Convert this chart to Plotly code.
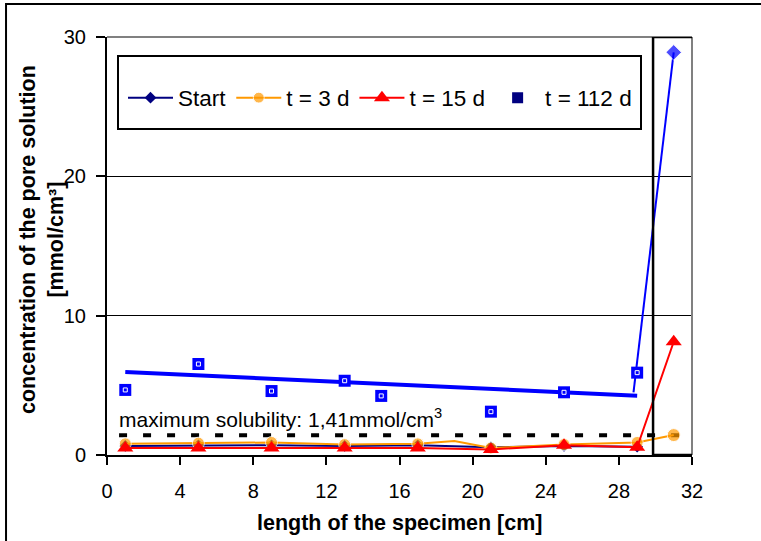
import plotly.graph_objects as go

# ---- data ----
x_start = [1, 5, 9, 13, 17, 21, 25, 29]
start = [0.65, 0.7, 0.7, 0.65, 0.7, 0.55, 0.65, 0.6]

x_3d = [1, 5, 9, 13, 17, 19, 21, 25, 29, 31]
t3d = [0.8, 0.85, 0.9, 0.75, 0.8, 1.0, 0.5, 0.75, 0.9, 1.43]
t3d_marker = [12, 12, 12, 12, 12, 0, 12, 12, 12, 13]

x_15d = [1, 5, 9, 13, 17, 21, 25, 29, 31]
t15d = [0.5, 0.5, 0.5, 0.5, 0.5, 0.4, 0.7, 0.55, 8.13]

x_112d = [1, 5, 9, 13, 15, 21, 25, 29]
t112d = [4.67, 6.53, 4.59, 5.33, 4.24, 3.11, 4.5, 5.91]

trend_x = [1, 29]
trend_y = [5.96, 4.26]

spike_x = [28.8, 31]
spike_y = [4.5, 28.9]

solubility = 1.41
sol_x = [0.66, 32.05]

x_ticks = [0, 4, 8, 12, 16, 20, 24, 28, 32]
y_ticks = [0, 10, 20, 30]

FONT = "Liberation Sans, Arial, sans-serif"
FS_TICK = 20
FS_TITLE = 21.5
FS_NOTE = 21
FS_LEG = 22.5
NAVY = "#000080"
BLUE = "#0000FF"
ORANGE = "#FF9900"
RED = "#FF0000"

fig = go.Figure()

# max solubility dashed line
fig.add_trace(go.Scatter(x=sol_x, y=[solubility] * len(sol_x), mode="lines",
                         line=dict(color="black", width=4, dash="8px,16px"),
                         showlegend=False, hoverinfo="skip"))
# trendline of t = 112 d
fig.add_trace(go.Scatter(x=trend_x, y=trend_y, mode="lines",
                         line=dict(color=BLUE, width=4), showlegend=False))
# spike to right end
fig.add_trace(go.Scatter(x=spike_x, y=spike_y, mode="lines+markers",
                         line=dict(color=BLUE, width=2),
                         marker=dict(symbol="diamond", size=[0, 12], color=BLUE),
                         showlegend=False))
# t = 112 d squares
fig.add_trace(go.Scatter(x=x_112d, y=t112d, mode="markers",
                         marker=dict(symbol="square", size=12, color=BLUE,
                                     line=dict(color=BLUE, width=0)),
                         showlegend=False))
fig.add_trace(go.Scatter(x=x_112d, y=t112d, mode="markers",
                         marker=dict(symbol="square-open", size=4, color="white",
                                     line=dict(color="white", width=1)),
                         showlegend=False, hoverinfo="skip"))

# Start
fig.add_trace(go.Scatter(x=x_start, y=start, mode="lines+markers", name="Start",
                         line=dict(color=NAVY, width=2),
                         marker=dict(symbol="diamond", size=9, color=NAVY)))
# t = 3 d
fig.add_trace(go.Scatter(x=x_3d, y=t3d, mode="lines+markers", name="t = 3 d",
                         line=dict(color=ORANGE, width=2),
                         marker=dict(symbol="circle", size=t3d_marker, color=ORANGE)))
# t = 15 d
fig.add_trace(go.Scatter(x=x_15d, y=t15d, mode="lines+markers", name="t = 15 d",
                         line=dict(color=RED, width=2),
                         marker=dict(symbol="triangle-up", size=14, color=RED)))
# legend proxy for t = 112 d
fig.add_trace(go.Scatter(x=[None], y=[None], mode="markers", name="t = 112 d",
                         marker=dict(symbol="square", size=11, color=NAVY,
                                     line=dict(color=NAVY, width=0))))

shapes = [
    # outer frame
    dict(type="rect", xref="paper", yref="paper", x0=-0.1726, x1=1.2, y0=-0.3, y1=1.0789,
         line=dict(color="black", width=2), layer="below"),
    # top & right plot border (gray)
    dict(type="line", xref="paper", yref="paper", x0=0, x1=1, y0=1, y1=1,
         line=dict(color="#808080", width=2)),
    dict(type="line", xref="paper", yref="paper", x0=1, x1=1, y0=0, y1=1,
         line=dict(color="#808080", width=2)),
    # legend box
    dict(type="rect", xref="paper", yref="paper",
         x0=(118 - 107) / 585, x1=(641 - 107) / 585,
         y0=1 - (129 - 37) / 418, y1=1 - (56 - 37) / 418,
         line=dict(color="black", width=2), fillcolor="white"),
    # highlight box around last position
    dict(type="rect", xref="x", yref="y", x0=29.87, x1=32.08, y0=0, y1=30,
         line=dict(color="black", width=2.5)),
]

annotations = [
    dict(x=0.55, y=1.55, xref="x", yref="y", xanchor="left", yanchor="bottom",
         text="maximum solubility: 1,41mmol/cm<sup>3</sup>", showarrow=False,
         font=dict(family=FONT, size=FS_NOTE, color="black")),
    dict(x=(42 - 107) / 585, y=1 - (240 - 37) / 418, xref="paper", yref="paper",
         text="<b>concentration of the pore solution<br>[mmol/cm³]</b>", textangle=-90,
         showarrow=False, xanchor="center", yanchor="middle",
         font=dict(family=FONT, size=FS_TITLE, color="black")),
    dict(x=0.5, y=1 - (523 - 37) / 418, xref="paper", yref="paper",
         text="<b>length of the specimen [cm]</b>", showarrow=False,
         xanchor="center", yanchor="middle",
         font=dict(family=FONT, size=FS_TITLE, color="black")),
]

fig.update_layout(
    width=761, height=541,
    margin=dict(l=107, r=69, t=37, b=86),
    paper_bgcolor="white", plot_bgcolor="white",
    font=dict(family=FONT, size=FS_TICK, color="black"),
    shapes=shapes, annotations=annotations,
    legend=dict(orientation="h", x=(123 - 107) / 585, y=1 - (98 - 37) / 418,
                xanchor="left", yanchor="middle", bgcolor="rgba(0,0,0,0)",
                borderwidth=0, itemwidth=45, font=dict(family=FONT, size=FS_LEG),
                traceorder="normal"),
    xaxis=dict(range=[0, 32], tickvals=x_ticks, ticktext=[str(v) for v in x_ticks],
               showgrid=False, zeroline=False, showline=True, linecolor="black",
               linewidth=2, ticks="outside", ticklen=8, tickwidth=2, tickcolor="black",
               ticklabelstandoff=9, tickfont=dict(family=FONT, size=FS_TICK)),
    yaxis=dict(range=[0, 30], tickvals=y_ticks, ticktext=[str(v) for v in y_ticks],
               showgrid=True, gridcolor="black", gridwidth=1, zeroline=False,
               showline=True, linecolor="black", linewidth=2, ticks="outside",
               ticklen=9, tickwidth=2, tickcolor="black", ticklabelstandoff=6,
               tickfont=dict(family=FONT, size=FS_TICK)),
    showlegend=True,
)

fig.write_html("out.html")
